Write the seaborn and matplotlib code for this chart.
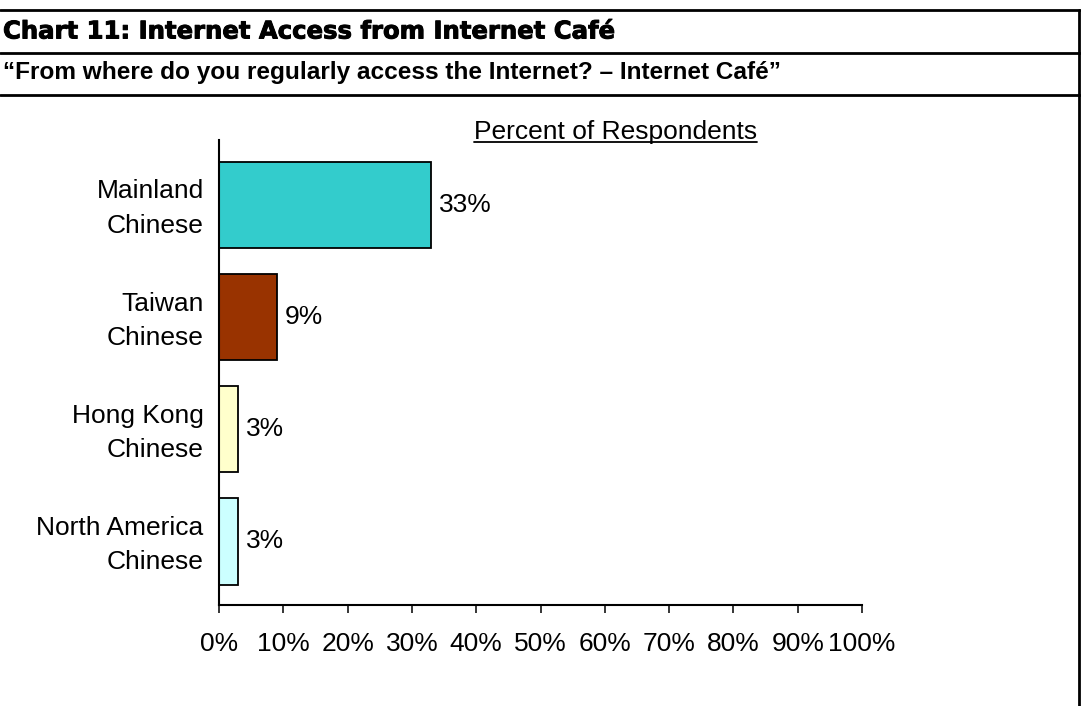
import matplotlib
matplotlib.use("Agg")
import matplotlib.pyplot as plt
import matplotlib.patheffects as pe
from matplotlib.lines import Line2D
from matplotlib.ticker import FuncFormatter
from matplotlib.transforms import ScaledTranslation
import seaborn as sns
import pandas as pd

# Survey data
groups = ["Mainland\nChinese", "Taiwan\nChinese", "Hong Kong\nChinese", "North America\nChinese"]
pct = [33, 9, 3, 3]
bar_colors = ["#33CCCC", "#993300", "#FFFFCC", "#CCFFFF"]
x_ticks = [0, 10, 20, 30, 40, 50, 60, 70, 80, 90, 100]

header = "Chart 11: Internet Access from Internet Café"
question = "\u201cFrom where do you regularly access the Internet? \u2013 Internet Café\u201d"
axis_title = "Percent of Respondents"

sns.set_theme(style="white")
plt.rcParams["font.family"] = ["Liberation Sans", "DejaVu Sans"]

W, H = 1081, 706
fig = plt.figure(figsize=(W / 100, H / 100), dpi=100)
fig.patch.set_facecolor("white")

def fx(px):
    return px / W

def fy(py):
    return 1 - py / H

ax = fig.add_axes([fx(219), fy(605), fx(862) - fx(219), fy(140) - fy(605)])

df = pd.DataFrame({"group": groups, "pct": pct})
sns.barplot(data=df, x="pct", y="group", hue="group", palette=bar_colors,
            orient="h", width=0.77, saturation=1, edgecolor="black",
            linewidth=1.3, legend=False, ax=ax)

ax.set_xlim(0, 100)
ax.set_ylim(3.566, -0.578)
ax.set_xticks(x_ticks)
ax.xaxis.set_major_formatter(FuncFormatter(lambda v, _: f"{v:.0f}%"))
ax.set_xlabel("")
ax.set_ylabel("")

for side in ("top", "right"):
    ax.spines[side].set_visible(False)
for side in ("left", "bottom"):
    ax.spines[side].set_color("black")
    ax.spines[side].set_linewidth(1.5)

ax.tick_params(axis="x", direction="out", length=6, width=1.1, color="black",
               pad=13.5, labelsize=19, labelcolor="black", bottom=True)
ax.tick_params(axis="y", length=0, pad=11, labelsize=19, labelcolor="black")
lift = ScaledTranslation(0, 4 / 100, fig.dpi_scale_trans)
for t in ax.get_yticklabels():
    t.set_linespacing(1.55)
    t.set_transform(t.get_transform() + lift)

for cont in ax.containers:
    ax.bar_label(cont, fmt="%g%%", padding=5.5, fontsize=19, color="black")

# Underlined axis title above the plot
title_txt = fig.text(fx(474), fy(132.5), axis_title, fontsize=19, ha="left",
                     va="center", color="black")
fig.canvas.draw()
bb = title_txt.get_window_extent()
fig.add_artist(Line2D([bb.x0 / W, bb.x1 / W], [fy(142), fy(142)],
                      transform=fig.transFigure, color="black", lw=1.3))

# Header band with ruled lines
for py in (10, 53, 95):
    fig.add_artist(Line2D([0, fx(1080)], [fy(py), fy(py)],
                          transform=fig.transFigure, color="black", lw=2))
fig.add_artist(Line2D([fx(1079), fx(1079)], [fy(10), 0],
                      transform=fig.transFigure, color="black", lw=2))

fig.text(fx(3), fy(31.5), header, fontsize=17.5, fontweight="bold",
         family="DejaVu Sans", ha="left", va="center", color="black",
         path_effects=[pe.withStroke(linewidth=0.7, foreground="black")])
fig.text(fx(3), fy(73), question, fontsize=17.6, fontweight="bold",
         ha="left", va="center", color="black")

fig.savefig("out.png", dpi=100, facecolor="white")
